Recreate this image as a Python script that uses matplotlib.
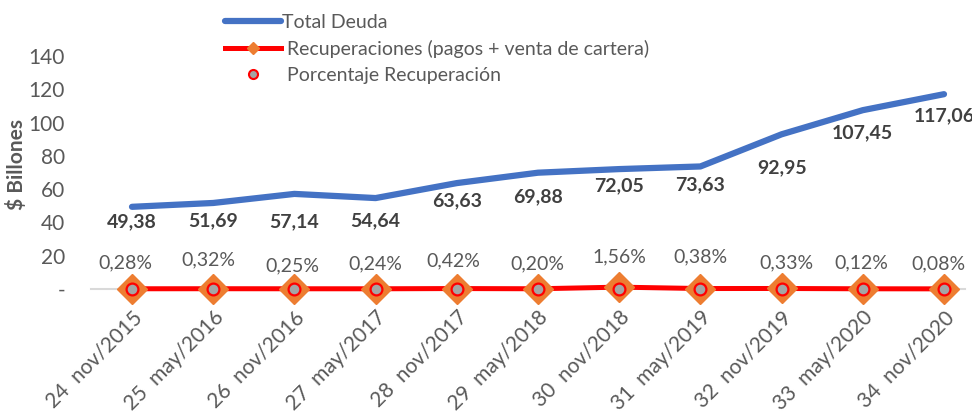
import matplotlib
matplotlib.use("Agg")
import matplotlib.pyplot as plt
import matplotlib.transforms as mtransforms
from matplotlib.lines import Line2D

plt.rcParams['font.family'] = ['Lato', 'DejaVu Sans']

categories = ["24  nov/2015", "25  may/2016", "26  nov/2016", "27  may/2017",
              "28  nov/2017", "29  may/2018", "30  nov/2018", "31  may/2019",
              "32  nov/2019", "33  may/2020", "34  nov/2020"]
total_deuda = [49.38, 51.69, 57.14, 54.64, 63.63, 69.88, 72.05, 73.63, 92.95, 107.45, 117.06]
total_labels = ["49,38", "51,69", "57,14", "54,64", "63,63", "69,88", "72,05", "73,63",
                "92,95", "107,45", "117,06"]
recuperaciones = [0.14, 0.17, 0.14, 0.13, 0.27, 0.14, 1.12, 0.28, 0.31, 0.13, 0.09]
porcentaje = [0, 0, 0, 0, 0, 0, 0, 0, 0, 0, 0]
pct_labels = ["0,28%", "0,32%", "0,25%", "0,24%", "0,42%", "0,20%", "1,56%", "0,38%",
              "0,33%", "0,12%", "0,08%"]
yticks = [0, 20, 40, 60, 80, 100, 120, 140]
ytick_labels = ["-", "20", "40", "60", "80", "100", "120", "140"]

# label offsets (pixels), style only
total_dy = [-15, -18, -28, -23, -18, -24, -17, -18, -33, -23, -22]
pct_dy = [26, 29, 23, 25, 28, 25, 32, 32, 26, 26, 25]
pct_dx = [-7, -5, -2, 0, -3, -1, 0, 0, 5, -1, -6]

W, H, DPI = 972, 417, 100
fig = plt.figure(figsize=(W / DPI, H / DPI), dpi=DPI)
left, right, bottom, top = 91.4, 965, 289, 56
ax = fig.add_axes([left / W, 1 - bottom / H, (right - left) / W, (bottom - top) / H])

x = list(range(len(categories)))
blue = "#4472C4"
red = "#FF0000"
orange = "#ED7D31"
grayfill = "#A5A5A5"
txt = "#595959"

ax.plot(x, total_deuda, color=blue, lw=4.5, solid_capstyle='round', zorder=3)
ax.plot(x, recuperaciones, color=red, lw=3.6, marker='D', markersize=15,
        markerfacecolor=orange, markeredgecolor=orange, clip_on=False, zorder=4)
ax.plot(x, porcentaje, linestyle='none', marker='o', markersize=8.5,
        markerfacecolor=grayfill, markeredgecolor=red, markeredgewidth=1.6,
        clip_on=False, zorder=5)

k = 72 / DPI
for xi, v, lab, dy in zip(x, total_deuda, total_labels, total_dy):
    ax.annotate(lab, (xi, v), xytext=(0, dy * k), textcoords='offset points',
                ha='center', va='center', fontsize=14, fontweight='bold', color="#404040")
for xi, v, lab, dy, dx in zip(x, porcentaje, pct_labels, pct_dy, pct_dx):
    ax.annotate(lab, (xi, v), xytext=(dx * k, dy * k), textcoords='offset points',
                ha='center', va='center', fontsize=14, color=txt)

ax.set_xlim(-0.5, (right - 132) / ((944 - 132) / 10))
ax.set_ylim(0, 140)
ax.set_yticks(yticks)
ax.set_yticklabels(ytick_labels, fontsize=15, color=txt)
ax.set_xticks(x)
ax.set_xticklabels(categories, fontsize=15, color=txt, rotation=45,
                   ha='right', va='top', rotation_mode='anchor')
shift = mtransforms.ScaledTranslation(6 / DPI, 0, fig.dpi_scale_trans)
for t in ax.get_xticklabels():
    t.set_transform(t.get_transform() + shift)
ax.tick_params(axis='y', length=0, pad=19)
ax.tick_params(axis='x', length=0, pad=13)
for s in ['top', 'right', 'left']:
    ax.spines[s].set_visible(False)
ax.spines['bottom'].set_color("#D9D9D9")
ax.spines['bottom'].set_linewidth(1.5)
ax.set_ylabel("$ Billones", fontsize=15, fontweight='bold', color=txt)
ax.yaxis.set_label_coords(-(left - 17) / (right - left), (289 - 165) / (289 - 56))
ax.yaxis.label.set_va('center')

handles = [
    Line2D([], [], color=blue, lw=4.5, solid_capstyle='round'),
    Line2D([], [], color=red, lw=3.6, marker='D', markersize=6,
           markerfacecolor=orange, markeredgecolor=orange),
    Line2D([], [], linestyle='none', marker='o', markersize=6.5,
           markerfacecolor=grayfill, markeredgecolor=red, markeredgewidth=1.5),
]
labels = ["Total Deuda", " Recuperaciones (pagos + venta de cartera)", " Porcentaje Recuperación"]
leg = fig.legend(handles, labels, loc='upper left', bbox_to_anchor=(225 / W, 1 - 14 / H),
                 frameon=False, fontsize=14, handlelength=2.9, handletextpad=0.05,
                 labelspacing=0.45, borderpad=0, borderaxespad=0)
for t in leg.get_texts():
    t.set_color(txt)

fig.savefig("out.png", dpi=DPI)
